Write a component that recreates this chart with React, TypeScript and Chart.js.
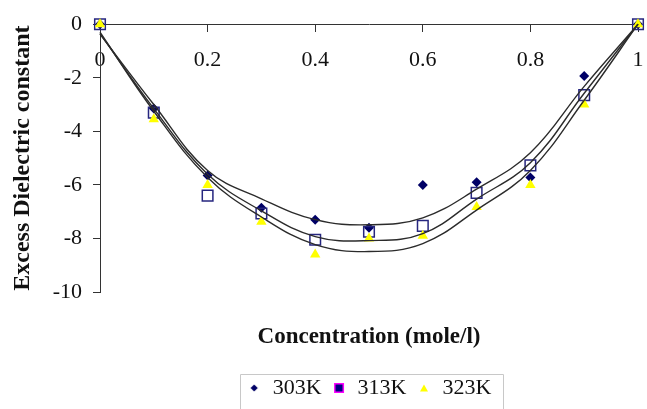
import React, { useEffect, useRef } from 'react';
import { Chart, registerables } from 'chart.js';

Chart.register(...registerables);

// ---- data ----
const concentration = [0, 0.1, 0.2, 0.3, 0.4, 0.5, 0.6, 0.7, 0.8, 0.9, 1.0];
const k303 = [0, -3.15, -5.65, -6.85, -7.3, -7.6, -6.0, -5.9, -5.72, -1.93, 0];
const k313 = [0, -3.3, -6.4, -7.07, -8.05, -7.75, -7.53, -6.3, -5.27, -2.65, 0];
const k323 = [0, -3.55, -6.0, -7.38, -8.6, -8.0, -7.9, -6.83, -6.0, -3.0, 0];
// trend lines
const fit303 = [-0.37, -3.0, -5.46, -6.52, -7.3, -7.49, -7.23, -6.16, -4.8, -2.32, 0];
const fit313 = [-0.35, -3.15, -5.6, -6.97, -7.93, -8.08, -7.82, -6.53, -5.17, -2.58, 0];
const fit323 = [-0.3, -3.25, -5.72, -7.2, -8.23, -8.49, -8.19, -6.94, -5.46, -2.84, 0];

const seriesLabels = ['303K', '313K', '323K'];
const xTickLabels = ['0', '0.2', '0.4', '0.6', '0.8', '1'];
const yTickLabels = ['-10', '-8', '-6', '-4', '-2', '0'];
const xTitle = 'Concentration (mole/l)';
const yTitle = 'Excess Dielectric constant';

const pts = (ys: number[]) => concentration.map((x, i) => ({ x, y: ys[i] }));

function makeMarker(draw: (ctx: CanvasRenderingContext2D) => void) {
  const c = document.createElement('canvas');
  c.width = 12;
  c.height = 12;
  const ctx = c.getContext('2d')!;
  draw(ctx);
  return c;
}

export default function App() {
  const ref = useRef<HTMLCanvasElement>(null);

  useEffect(() => {
    document.body.style.margin = '0';
    const canvas = ref.current!;

    const diamond = makeMarker((ctx) => {
      ctx.fillStyle = '#000066';
      ctx.beginPath();
      ctx.moveTo(6, 2.4);
      ctx.lineTo(9.6, 6);
      ctx.lineTo(6, 9.6);
      ctx.lineTo(2.4, 6);
      ctx.closePath();
      ctx.fill();
    });
    const square = makeMarker((ctx) => {
      ctx.fillStyle = '#000080';
      ctx.fillRect(1.5, 1.5, 9, 9);
      ctx.strokeStyle = '#ff00ff';
      ctx.lineWidth = 1.5;
      ctx.strokeRect(1.75, 1.75, 8.5, 8.5);
    });
    const triangle = makeMarker((ctx) => {
      ctx.fillStyle = '#ffff00';
      ctx.beginPath();
      ctx.moveTo(6, 2.5);
      ctx.lineTo(10, 9.5);
      ctx.lineTo(2, 9.5);
      ctx.closePath();
      ctx.fill();
    });
    const markers = [diamond, square, triangle];

    const legendBorder = {
      id: 'legendBorder',
      afterDraw(chart: any) {
        const lg = chart.legend;
        if (!lg || !lg.legendHitBoxes || !lg.legendHitBoxes.length) return;
        const hb = lg.legendHitBoxes;
        const first = hb[0];
        const last = hb[hb.length - 1];
        const left = first.left - 7;
        const right = last.left + last.width + 12;
        const top = first.top - 3;
        const ctx = chart.ctx;
        ctx.save();
        ctx.strokeStyle = '#c8c8c8';
        ctx.lineWidth = 1;
        ctx.beginPath();
        ctx.moveTo(Math.round(left) + 0.5, 430);
        ctx.lineTo(Math.round(left) + 0.5, Math.round(top) + 0.5);
        ctx.lineTo(Math.round(right) + 0.5, Math.round(top) + 0.5);
        ctx.lineTo(Math.round(right) + 0.5, 430);
        ctx.stroke();
        ctx.restore();
      },
    };

    const axisColor = '#333333';
    const curveColor = '#2b2b2b';

    const curve = (label: string, ys: number[]) => ({
      label,
      data: pts(ys),
      showLine: true,
      borderColor: curveColor,
      borderWidth: 1.4,
      pointRadius: 0,
      tension: 0.4,
      clip: false,
      order: 1,
    });

    const chart = new Chart(canvas, {
      type: 'scatter',
      data: {
        datasets: [
          {
            label: seriesLabels[0],
            data: pts(k303),
            pointStyle: 'rectRot',
            pointRadius: 5,
            pointBackgroundColor: '#000066',
            pointBorderColor: '#000066',
            pointBorderWidth: 0,
            showLine: false,
            clip: false,
            order: 4,
          },
          {
            label: seriesLabels[1],
            data: pts(k313),
            pointStyle: 'rect',
            pointRadius: 7.5,
            pointBackgroundColor: 'rgba(0,0,0,0)',
            pointBorderColor: '#26267f',
            pointBorderWidth: 1.5,
            showLine: false,
            clip: false,
            order: 3,
          },
          {
            label: seriesLabels[2],
            data: pts(k323),
            pointStyle: 'triangle',
            pointRadius: 6,
            pointBackgroundColor: '#ffff00',
            pointBorderColor: '#ffff00',
            pointBorderWidth: 0,
            showLine: false,
            clip: false,
            order: 2,
          },
          curve('fit 303K', fit303),
          curve('fit 313K', fit313),
          curve('fit 323K', fit323),
        ],
      },
      options: {
        responsive: true,
        maintainAspectRatio: false,
        animation: false,
        events: [],
        font: { family: 'Liberation Serif' },
        layout: { padding: { left: 0, right: 3, top: 20, bottom: 0 } },
        scales: {
          x: {
            type: 'linear',
            min: 0,
            max: 1,
            position: { y: 0 } as any,
            afterFit: (s: any) => {
              s.paddingLeft = 0;
              s.paddingRight = 0;
            },
            ticks: {
              stepSize: 0.2,
              padding: 16,
              color: '#111',
              font: { family: 'Liberation Serif', size: 22 },
              callback: (_v: any, i: number) => xTickLabels[i],
            },
            grid: { drawOnChartArea: false, drawTicks: true, tickLength: 7, color: axisColor, lineWidth: 1 },
            border: { display: true, color: axisColor, width: 1 },
          },
          y: {
            type: 'linear',
            min: -10,
            max: 0,
            position: 'left',
            afterFit: (s: any) => {
              s.width = 100;
            },
            ticks: {
              stepSize: 2,
              padding: 11,
              color: '#111',
              font: { family: 'Liberation Serif', size: 22 },
              callback: (_v: any, i: number) => yTickLabels[i],
            },
            grid: { drawOnChartArea: false, drawTicks: true, tickLength: 7, color: axisColor, lineWidth: 1 },
            border: { display: true, color: axisColor, width: 1 },
            title: {
              display: true,
              text: yTitle,
              color: '#111',
              font: { family: 'Liberation Serif', size: 24, weight: 'bold' },
              padding: { top: 8.6, bottom: 0 },
            },
          },
        },
        plugins: {
          tooltip: { enabled: false },
          title: {
            display: true,
            text: xTitle,
            position: 'bottom',
            fullSize: false,
            weight: 500,
            color: '#111',
            font: { family: 'Liberation Serif', size: 23, weight: 'bold' },
            padding: { top: 31, bottom: 16.4 },
          } as any,
          legend: {
            display: true,
            position: 'bottom',
            fullSize: false,
            align: 'center',
            labels: {
              usePointStyle: true,
              boxWidth: 15,
              boxHeight: 10,
              padding: 10,
              color: '#111',
              font: { family: 'Liberation Serif', size: 22 },
              generateLabels: () =>
                seriesLabels.map((t, i) => ({
                  text: t,
                  pointStyle: markers[i] as any,
                  fillStyle: 'rgba(0,0,0,0)',
                  strokeStyle: 'rgba(0,0,0,0)',
                  lineWidth: 0,
                  hidden: false,
                  datasetIndex: i,
                  fontColor: '#111',
                })),
            },
          },
        },
      } as any,
      plugins: [legendBorder],
    });

    return () => chart.destroy();
  }, []);

  return (
    <div style={{ position: 'absolute', left: 0, top: 0, width: 647, height: 409 }}>
      <canvas ref={ref} />
    </div>
  );
}
